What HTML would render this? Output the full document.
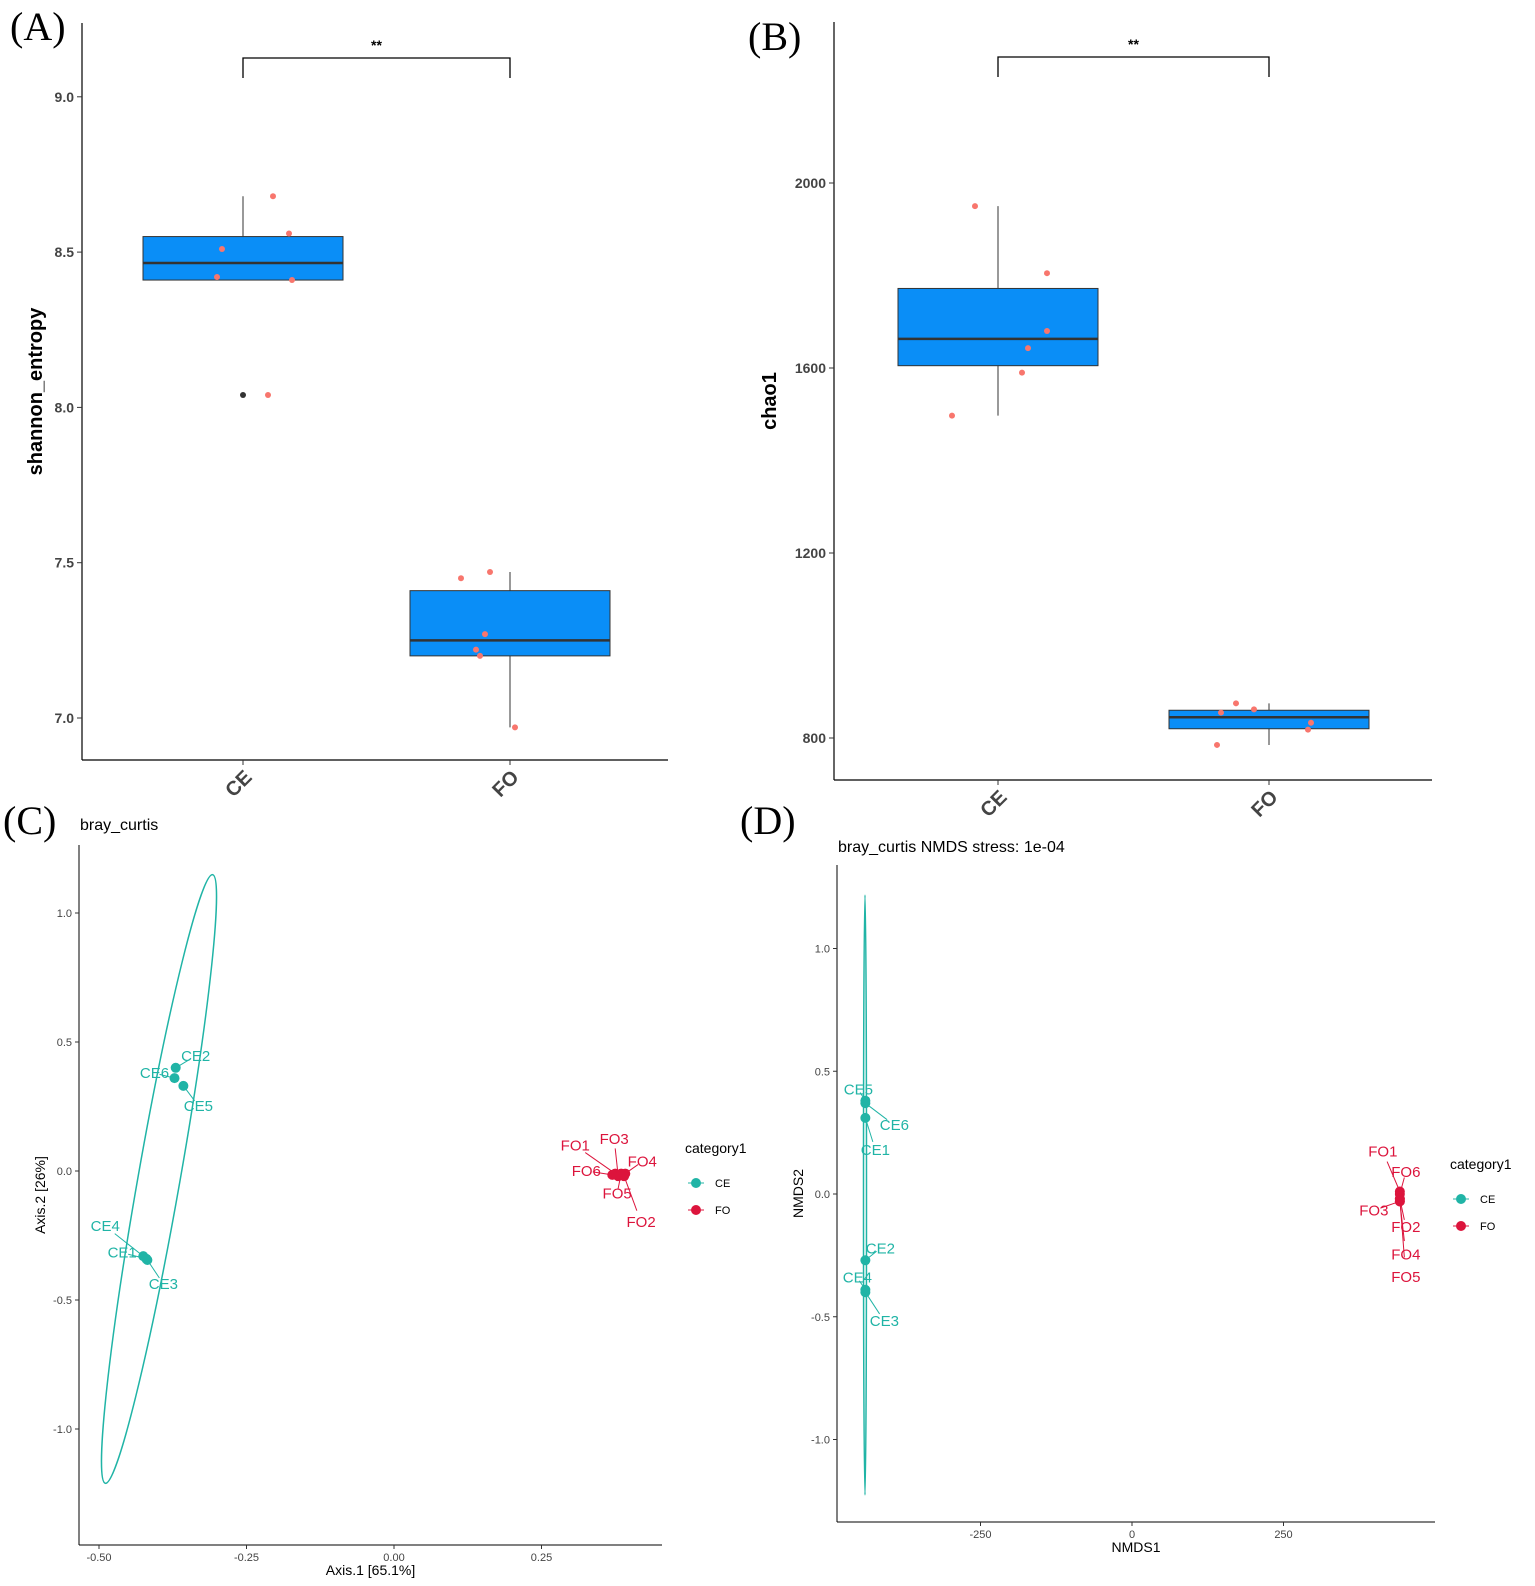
<!DOCTYPE html>
<html><head><meta charset="utf-8"><style>
html,body{margin:0;padding:0;background:#fff}
svg{display:block;font-family:"Liberation Sans",sans-serif}
.pl{font-family:"Liberation Serif",serif;font-size:40px}
</style></head><body>
<svg id="s" width="1535" height="1586" viewBox="0 0 1535 1586"></svg>
<script>
// Panel A data
const groups = ["CE","FO"];
const aBox = [[8.41,8.41,8.465,8.55,8.68],[6.97,7.20,7.25,7.41,7.47]]; // min,q1,med,q3,max whisker
const aPtsCE = [8.68,8.51,8.56,8.42,8.41,8.04];
const aPtsFO = [7.45,7.47,7.27,7.22,7.20,6.97];
const aJit = [[30,-21,46,-26,49,25],[-49,-20,-25,-34,-30,5]];
const aOutlier = [8.04];
const aTicks = [7.0,7.5,8.0,8.5,9.0];
// Panel B data
const bBox = [[1497,1605,1663,1772,1950],[785,820,845,860,875]];
const bPtsCE = [1950,1805,1680,1643,1590,1497];
const bPtsFO = [875,862,855,833,818,785];
const bJit = [[-23,49,49,30,24,-46],[-33,-15,-48,42,39,-52]];
const bTicks = [800,1200,1600,2000];
// Panel C data
const cNames = ["CE2","CE6","CE5","CE4","CE1","CE3","FO1","FO3","FO4","FO6","FO5","FO2"];
const cX = [-0.37,-0.372,-0.357,-0.425,-0.42,-0.418,0.375,0.38,0.392,0.37,0.385,0.39];
const cY = [0.40,0.36,0.33,-0.33,-0.34,-0.345,-0.01,-0.02,-0.01,-0.015,-0.01,-0.02];
const cXTicks = [-0.50,-0.25,0.00,0.25];
const cYTicks = [-1.0,-0.5,0.0,0.5,1.0];
// Panel D data
const dNames = ["CE5","CE6","CE1","CE2","CE4","CE3","FO1","FO6","FO3","FO2","FO4","FO5"];
const dX = [-440,-440,-440,-440,-440,-440,442,442,442,442,442,442];
const dY = [0.38,0.37,0.31,-0.27,-0.39,-0.40,0.01,0.0,-0.03,-0.02,-0.03,-0.02];
const dXTicks = [-250,0,250];
const dYTicks = [-1.0,-0.5,0.0,0.5,1.0];

const NS="http://www.w3.org/2000/svg", S=document.getElementById('s');
function el(t,a,txt){const e=document.createElementNS(NS,t);for(const k in a)e.setAttribute(k,a[k]);if(txt!==undefined)e.textContent=txt;S.appendChild(e);return e;}
const TEAL="#20b4a6", RED="#dc143c", SAL="#f8766d", BOX="#0a8ef7";

function boxPanel(o){
  const y=v=>o.y0+(v-o.v0)*o.k;
  const gx=[o.cx0,o.cx1];
  let e=el('line',{x1:o.ax,y1:o.top,x2:o.ax,y2:o.bot,stroke:'#000','stroke-width':1.2});
  
  e=el('line',{x1:o.ax,y1:o.bot,x2:o.right,y2:o.bot,stroke:'#000','stroke-width':1.2});
  
  o.ticks.forEach(t=>{
    el('line',{x1:o.ax-5,y1:y(t),x2:o.ax,y2:y(t),stroke:'#333'});
    e=el('text',{x:o.ax-8,y:y(t)+5,'text-anchor':'end','font-size':14,'font-weight':'bold',fill:'#444'},o.fmt(t));
    
  });
  o.box.forEach((b,i)=>{
    const cx=gx[i];
    el('line',{x1:cx,y1:y(b[0]),x2:cx,y2:y(b[4]),stroke:'#333'});
    e=el('rect',{x:cx-100,y:y(b[3]),width:200,height:y(b[1])-y(b[3]),fill:BOX,stroke:'#333','stroke-width':1});
    
    el('line',{x1:cx-100,y1:y(b[2]),x2:cx+100,y2:y(b[2]),stroke:'#333','stroke-width':2.5});
    el('line',{x1:cx,y1:o.bot,x2:cx,y2:o.bot+5,stroke:'#333'});
    e=el('text',{x:cx-4,y:o.bot+30,'text-anchor':'middle','font-size':20,'font-weight':'bold',fill:'#444',transform:`rotate(-45 ${cx-4} ${o.bot+24})`},groups[i]);
    
  });
  (o.out||[]).forEach(v=>{el('circle',{cx:gx[0],cy:y(v),r:3,fill:'#333'});});
  [o.ptsCE,o.ptsFO].forEach((arr,i)=>arr.forEach((v,j)=>{
    e=el('circle',{cx:gx[i]+o.jit[i][j],cy:y(v),r:3,fill:SAL});
    
  }));
  const by=o.top+35;
  el('path',{d:`M${gx[0]} ${by+20}V${by}H${gx[1]}V${by+20}`,fill:'none',stroke:'#000','stroke-width':1.3});
  e=el('text',{x:(gx[0]+gx[1])/2,y:by-8,'text-anchor':'middle','font-size':14,'font-weight':'bold'},'**');
  
  e=el('text',{x:o.tx,y:(o.top+o.bot)/2,'text-anchor':'middle','font-size':20,'font-weight':'bold',transform:`rotate(-90 ${o.tx} ${(o.top+o.bot)/2})`},o.title);
  
}
boxPanel({p:'a',ax:82,top:23,bot:760,right:668,y0:718,v0:7.0,k:-310.6,ticks:aTicks,fmt:t=>t.toFixed(1),box:aBox,cx0:243,cx1:510,ptsCE:aPtsCE,ptsFO:aPtsFO,jit:aJit,out:aOutlier,title:'shannon_entropy',tx:42});
boxPanel({p:'b',ax:834,top:22,bot:780,right:1432,y0:738,v0:800,k:-0.4625,ticks:bTicks,fmt:t=>String(t),box:bBox,cx0:998,cx1:1269,ptsCE:bPtsCE,ptsFO:bPtsFO,jit:bJit,title:'chao1',tx:776});

function scatter(o){
  const X=v=>o.xa+v*o.xk, Y=v=>o.ya+v*o.yk;
  let e=el('line',{x1:o.ax,y1:o.top,x2:o.ax,y2:o.bot,stroke:'#000'});
  
  e=el('line',{x1:o.ax,y1:o.bot,x2:o.right,y2:o.bot,stroke:'#000'});
  
  o.xt.forEach(t=>{el('line',{x1:X(t),y1:o.bot,x2:X(t),y2:o.bot+4,stroke:'#333'});
    e=el('text',{x:X(t),y:o.bot+16,'text-anchor':'middle','font-size':11,fill:'#444'},o.fx(t));
    });
  o.yt.forEach(t=>{el('line',{x1:o.ax-4,y1:Y(t),x2:o.ax,y2:Y(t),stroke:'#333'});
    e=el('text',{x:o.ax-7,y:Y(t)+4,'text-anchor':'end','font-size':11,fill:'#444'},t.toFixed(1));
    });
  o.ell();
  o.names.forEach((n,i)=>{
    const c=n.startsWith('CE')?TEAL:RED, px=X(o.xs[i]), py=Y(o.ys[i]), lo=o.lab[i];
    el('line',{x1:px,y1:py,x2:px+lo[0]*0.75,y2:py+lo[1]*0.75,stroke:c,'stroke-width':1});
    e=el('circle',{cx:px,cy:py,r:5,fill:c});
    
    e=el('text',{x:px+lo[0],y:py+lo[1]+5,'text-anchor':'middle','font-size':15,fill:c},n);
    
  });
  e=el('text',{x:o.lx,y:o.ly,'font-size':14},'category1');
  
  [['CE',TEAL],['FO',RED]].forEach((g,i)=>{const yy=o.ly+30+i*27;
    el('line',{x1:o.lx+3,y1:yy,x2:o.lx+19,y2:yy,stroke:g[1]});
    e=el('circle',{cx:o.lx+11,cy:yy,r:5,fill:g[1]});
    
    el('text',{x:o.lx+30,y:yy+4,'font-size':11},g[0]);});
  e=el('text',{x:o.ax+1,y:o.tty,'font-size':16},o.title);
  
  e=el('text',{x:(o.ax+o.right)/2,y:o.bot+30,'text-anchor':'middle','font-size':14},o.xtitle);
  
  const my=(o.top+o.bot)/2;
  e=el('text',{x:o.ytx,y:my,'text-anchor':'middle','font-size':14,transform:`rotate(-90 ${o.ytx} ${my})`},o.ytitle);
  
}
scatter({p:'c',ax:79,top:845,bot:1545,right:662,xa:394,xk:590,ya:1171,yk:-258,xt:cXTicks,yt:cYTicks,fx:t=>t.toFixed(2),
  names:cNames,xs:cX,ys:cY,
  lab:[[20,-12],[-20,-5],[15,20],[-38,-30],[-24,-6],[16,24],[-40,-28],[-4,-37],[17,-12],[-26,-4],[-4,20],[17,46]],
  ell:()=>{const e=el('ellipse',{cx:159,cy:1179,rx:309,ry:21,fill:'none',stroke:TEAL,'stroke-width':1.5,transform:'rotate(-80 159 1179)'});
    },
  lx:685,ly:1153,title:'bray_curtis',tty:830,xtitle:'Axis.1 [65.1%]',ytitle:'Axis.2 [26%]',ytx:45});
scatter({p:'d',ax:837,top:865,bot:1522,right:1435,xa:1132,xk:0.606,ya:1194,yk:-245.5,xt:dXTicks,yt:dYTicks,fx:t=>String(t),
  names:dNames,xs:dX,ys:dY,
  lab:[[-7,-11],[29,22],[10,32],[15,-12],[-8,-12],[19,29],[-17,-40],[6,-22],[-26,9],[6,28],[6,53],[6,78]],
  ell:()=>{const e=el('ellipse',{cx:865,cy:1195,rx:1.5,ry:300,fill:'none',stroke:TEAL,'stroke-width':1.5});
    },
  lx:1450,ly:1169,title:'bray_curtis NMDS stress: 1e-04',tty:852,xtitle:'NMDS1',ytitle:'NMDS2',ytx:803});

[['(A)',10,40],['(B)',748,50],['(C)',3,834],['(D)',740,834]].forEach(p=>{
  const e=el('text',{x:p[1],y:p[2],class:'pl'},p[0]);
  
  
});
</script>
</body></html>
